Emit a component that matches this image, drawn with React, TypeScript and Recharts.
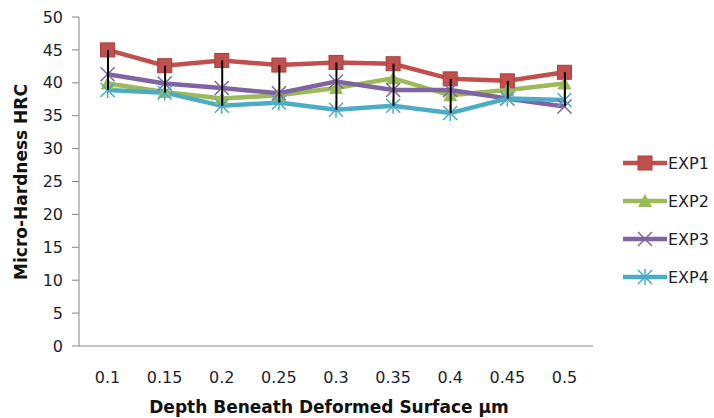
import React from "react"
import { ComposedChart, Line, Bar, XAxis, YAxis } from "recharts"

const depths = ["0.1", "0.15", "0.2", "0.25", "0.3", "0.35", "0.4", "0.45", "0.5"]
const exp1 = [45.0, 42.6, 43.4, 42.7, 43.1, 42.9, 40.6, 40.3, 41.6]
const exp2 = [39.9, 38.6, 37.6, 38.1, 39.2, 40.7, 38.1, 38.9, 39.9]
const exp3 = [41.3, 39.9, 39.2, 38.4, 40.2, 38.9, 38.9, 37.6, 36.4]
const exp4 = [38.9, 38.5, 36.5, 37.0, 35.9, 36.5, 35.4, 37.6, 37.4]
const yTicks = [0, 5, 10, 15, 20, 25, 30, 35, 40, 45, 50]

const FONT = "'DejaVu Sans', sans-serif"
const TEXT = "#1e1e2e"

const data = depths.map((d, i) => {
  const vals = [exp1[i], exp2[i], exp3[i], exp4[i]]
  return {
    depth: d,
    exp1: exp1[i],
    exp2: exp2[i],
    exp3: exp3[i],
    exp4: exp4[i],
    hiLo: [Math.min(...vals), Math.max(...vals)],
  }
})

type Shape = "square" | "triangle" | "x" | "star"

function Marker({ shape, cx, cy, color }: { shape: Shape; cx: number; cy: number; color: string }) {
  if (shape === "square") {
    return <rect x={cx - 7} y={cy - 7} width={14} height={14} fill={color} stroke="#a8403d" strokeWidth={1} />
  }
  if (shape === "triangle") {
    return <polygon points={`${cx},${cy - 7} ${cx + 7},${cy + 6} ${cx - 7},${cy + 6}`} fill={color} />
  }
  if (shape === "x") {
    return (
      <g stroke={color} strokeWidth={1.5}>
        <line x1={cx - 7} y1={cy - 7} x2={cx + 7} y2={cy + 7} />
        <line x1={cx - 7} y1={cy + 7} x2={cx + 7} y2={cy - 7} />
      </g>
    )
  }
  return (
    <g stroke={color} strokeWidth={1.5}>
      <line x1={cx - 7} y1={cy - 7} x2={cx + 7} y2={cy + 7} />
      <line x1={cx - 7} y1={cy + 7} x2={cx + 7} y2={cy - 7} />
      <line x1={cx} y1={cy - 8} x2={cx} y2={cy + 8} />
    </g>
  )
}

const series: { key: string; name: string; color: string; shape: Shape }[] = [
  { key: "exp1", name: "EXP1", color: "#c0504d", shape: "square" },
  { key: "exp2", name: "EXP2", color: "#9bbb59", shape: "triangle" },
  { key: "exp3", name: "EXP3", color: "#8064a2", shape: "x" },
  { key: "exp4", name: "EXP4", color: "#4bacc6", shape: "star" },
]

export default function App() {
  return (
    <div style={{ position: "absolute", left: 0, top: 0, width: 714, height: 418, background: "#fff", fontFamily: FONT }}>
      <ComposedChart width={714} height={418} data={data} margin={{ top: 17, right: 121, bottom: 0, left: 0 }}>
        <XAxis
          dataKey="depth"
          height={72}
          tickLine={false}
          tickSize={0}
          tickMargin={26}
          stroke="#868686"
          tick={{ fontSize: 16, fill: TEXT, fontFamily: FONT }}
          label={{
            content: () => (
              <text x={329} y={407} textAnchor="middle" dominantBaseline="central" fontSize={17} fontWeight="bold" fill="#111" fontFamily={FONT}>
                Depth Beneath Deformed Surface µm
              </text>
            ),
          }}
        />
        <YAxis
          width={79}
          domain={[0, 50]}
          ticks={yTicks}
          interval={0}
          tickSize={7}
          tickMargin={9}
          stroke="#868686"
          tick={{ fontSize: 16, fill: TEXT, fontFamily: FONT }}
          label={{
            content: () => (
              <text transform="translate(21,182) rotate(-90)" textAnchor="middle" dominantBaseline="central" fontSize={17} fontWeight="bold" fill="#111" fontFamily={FONT}>
                Micro-Hardness HRC
              </text>
            ),
          }}
        />
        {series.map((s) => (
          <Line
            key={s.key}
            dataKey={s.key}
            name={s.name}
            stroke={s.color}
            strokeWidth={4.5}
            isAnimationActive={false}
            dot={(p: any) => <Marker key={`${s.key}-${p.index}`} shape={s.shape} cx={p.cx} cy={p.cy} color={s.color} />}
            activeDot={false}
          />
        ))}
        <Bar dataKey="hiLo" barSize={2} fill="#000" isAnimationActive={false} zIndex={700} />
      </ComposedChart>
      <div style={{ position: "absolute", left: 622, top: 144 }}>
        {series.map((s) => (
          <div key={s.key} style={{ display: "flex", alignItems: "center", height: 38 }}>
            <svg width={46} height={20}>
              <line x1={1} y1={10} x2={45} y2={10} stroke={s.color} strokeWidth={4.5} />
              <Marker shape={s.shape} cx={23} cy={10} color={s.color} />
            </svg>
            <span style={{ fontSize: 16, color: TEXT }}>{s.name}</span>
          </div>
        ))}
      </div>
    </div>
  )
}
